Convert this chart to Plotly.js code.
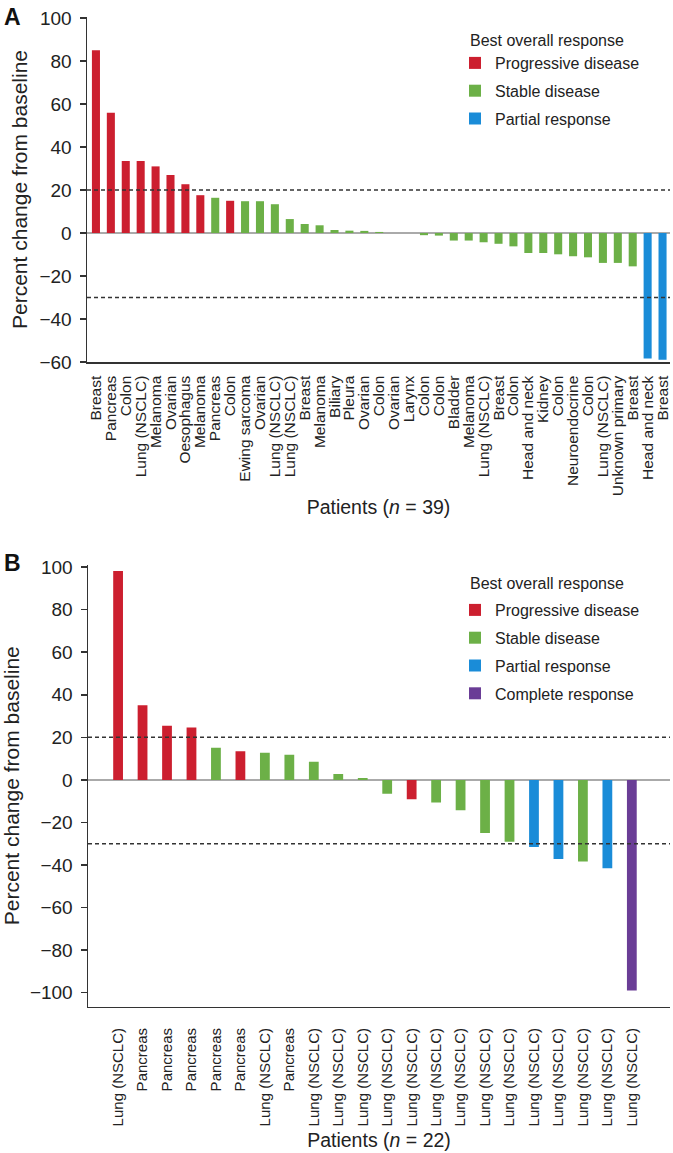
<!DOCTYPE html>
<html>
<head>
<meta charset="utf-8">
<script src="https://cdn.plot.ly/plotly-3.0.1.min.js"></script>
<style>
  body { margin: 0; background: #fff; }
  #chart { width: 673px; height: 1153px; }
</style>
</head>
<body>
<div id="chart"></div>
<script>
// Panel A: 39 patients
var patientsA = ["Breast", "Pancreas", "Colon", "Lung (NSCLC)", "Melanoma", "Ovarian", "Oesophagus",
  "Melanoma", "Pancreas", "Colon", "Ewing sarcoma", "Ovarian", "Lung (NSCLC)", "Lung (NSCLC)", "Breast",
  "Melanoma", "Biliary", "Pleura", "Ovarian", "Colon", "Ovarian", "Larynx", "Colon", "Colon", "Bladder",
  "Melanoma", "Lung (NSCLC)", "Breast", "Colon", "Head and neck", "Kidney", "Colon", "Neuroendocrine",
  "Colon", "Lung (NSCLC)", "Unknown primary", "Breast", "Head and neck", "Breast"];
var changeA = [85, 56, 33.5, 33.5, 31, 27, 22.7, 17.6, 16.4, 15, 14.8, 14.8, 13.4, 6.5, 4.2,
  3.6, 1.4, 1.1, 1, 0.5, 0, 0, -1, -1.2, -3.5,
  -3.5, -4.3, -5, -6.2, -9.3, -9.3, -9.9, -10.8,
  -11.3, -13.9, -13.9, -15.5, -58.4, -58.9];
var responseA = ["PD", "PD", "PD", "PD", "PD", "PD", "PD", "PD", "SD", "PD", "SD", "SD", "SD", "SD", "SD",
  "SD", "SD", "SD", "SD", "SD", "SD", "SD", "SD", "SD", "SD",
  "SD", "SD", "SD", "SD", "SD", "SD", "SD", "SD",
  "SD", "SD", "SD", "SD", "PR", "PR"];

// Panel B: 22 patients
var patientsB = ["Lung (NSCLC)", "Pancreas", "Pancreas", "Pancreas", "Pancreas", "Pancreas", "Lung (NSCLC)",
  "Pancreas", "Lung (NSCLC)", "Lung (NSCLC)", "Lung (NSCLC)", "Lung (NSCLC)", "Lung (NSCLC)", "Lung (NSCLC)",
  "Lung (NSCLC)", "Lung (NSCLC)", "Lung (NSCLC)", "Lung (NSCLC)", "Lung (NSCLC)", "Lung (NSCLC)",
  "Lung (NSCLC)", "Lung (NSCLC)"];
var changeB = [98.2, 35.1, 25.4, 24.6, 15.1, 13.5, 12.8, 11.8, 8.5, 2.8, 0.9, -6.5, -9.1, -10.6,
  -14.3, -24.9, -29.1, -31.5, -37.2, -38.3, -41.5, -99];
var responseB = ["PD", "PD", "PD", "PD", "SD", "PD", "SD", "SD", "SD", "SD", "SD", "SD", "PD", "SD",
  "SD", "SD", "SD", "PR", "PR", "SD", "PR", "CR"];

var thresholds = [20, -30];

var classes = [
  {code: "PD", name: "Progressive disease", color: "#cc1f2f"},
  {code: "SD", name: "Stable disease", color: "#6cb047"},
  {code: "PR", name: "Partial response", color: "#1a8cd8"},
  {code: "CR", name: "Complete response", color: "#6a3d96"}
];

var font = "Liberation Sans, Arial, sans-serif";
var W = 673, H = 1153;
function px(y) { return 1 - y / H; }

function makeTraces(values, resp, xa, ya, legend, width) {
  var out = [];
  classes.forEach(function (c) {
    var xs = [], ys = [];
    values.forEach(function (v, i) {
      if (resp[i] === c.code) { xs.push(i); ys.push(v); }
    });
    if (!xs.length) return;
    out.push({
      type: "bar", x: xs, y: ys, name: c.name, width: width,
      marker: {color: c.color, line: {width: 0}},
      xaxis: xa, yaxis: ya, legend: legend, legendgroup: legend + c.code,
      hoverinfo: "y"
    });
  });
  return out;
}

var data = makeTraces(changeA, responseA, "x", "y", "legend", 0.54)
  .concat(makeTraces(changeB, responseB, "x2", "y2", "legend2", 0.4));

function idx(arr) { return arr.map(function (d, i) { return i; }); }

var shapes = [];
thresholds.forEach(function (t) {
  shapes.push({type: "line", xref: "x domain", yref: "y", x0: 0, x1: 1, y0: t, y1: t,
    line: {color: "#333", width: 1.5, dash: "4px,3px"}});
  shapes.push({type: "line", xref: "x2 domain", yref: "y2", x0: 0, x1: 1, y0: t, y1: t,
    line: {color: "#333", width: 1.5, dash: "4px,3px"}});
});

var yaxisBase = {
  dtick: 20, showgrid: false, zeroline: true, zerolinecolor: "#aaa", zerolinewidth: 1.5,
  showline: true, linecolor: "#333", linewidth: 1.5, ticks: "outside", ticklen: 6,
  tickcolor: "#333", tickwidth: 1.5, ticklabelstandoff: 4,
  tickfont: {family: font, size: 19, color: "#222"},
  title: {text: "Percent change from baseline", font: {family: font, size: 21, color: "#222"}, standoff: 6}
};

var legendBase = {
  xanchor: "left", yanchor: "top", bgcolor: "rgba(0,0,0,0)",
  font: {family: font, size: 16, color: "#222"}, tracegroupgap: 4, itemwidth: 30
};

function legendTitle(y) {
  return {text: "Best overall response", xref: "paper", yref: "paper", x: 468 / W, y: px(y),
    xanchor: "left", yanchor: "middle", showarrow: false, font: {family: font, size: 16, color: "#222"}};
}

var layout = {
  width: W, height: H,
  margin: {l: 0, r: 0, t: 0, b: 0},
  paper_bgcolor: "#fff", plot_bgcolor: "#fff",
  barmode: "overlay",
  showlegend: true,
  xaxis: {
    domain: [87 / W, 670 / W], anchor: "y", range: [-0.6, 38.5],
    tickmode: "array", tickvals: idx(patientsA), ticktext: patientsA, tickangle: -90,
    ticks: "", ticklabelstandoff: 6,
    tickfont: {family: font, size: 15.5, color: "#222"},
    showline: true, linecolor: "#333", linewidth: 1.5, showgrid: false, zeroline: false,
    title: {text: "Patients (<i>n</i> = 39)", font: {family: font, size: 19.5, color: "#222"}, standoff: 5}
  },
  yaxis: Object.assign({}, yaxisBase, {domain: [px(362), px(17)], anchor: "x", range: [-60, 100.5]}),
  xaxis2: {
    domain: [88 / W, 670 / W], anchor: "y2", range: [-1.23, 22.56],
    tickmode: "array", tickvals: idx(patientsB), ticktext: patientsB, tickangle: -90,
    ticks: "", ticklabelstandoff: 14,
    tickfont: {family: font, size: 15, color: "#222"},
    showline: true, linecolor: "#333", linewidth: 1.5, showgrid: false, zeroline: false,
    title: {text: "Patients (<i>n</i> = 22)", font: {family: font, size: 19.5, color: "#222"}, standoff: 8}
  },
  yaxis2: Object.assign({}, yaxisBase, {domain: [px(1006.5), px(565)], anchor: "x2", range: [-106.5, 101]}),
  legend: Object.assign({}, legendBase, {x: 455 / W, y: px(46)}),
  legend2: Object.assign({}, legendBase, {x: 455 / W, y: px(593)}),
  shapes: shapes,
  annotations: [
    {text: "<b>A</b>", xref: "paper", yref: "paper", x: 2 / W, y: px(2), xanchor: "left", yanchor: "top",
      showarrow: false, font: {family: font, size: 23, color: "#111"}},
    {text: "<b>B</b>", xref: "paper", yref: "paper", x: 2 / W, y: px(548), xanchor: "left", yanchor: "top",
      showarrow: false, font: {family: font, size: 23, color: "#111"}},
    legendTitle(40),
    legendTitle(583)
  ]
};

Plotly.newPlot("chart", data, layout, {displayModeBar: false, staticPlot: true});
</script>
</body>
</html>
